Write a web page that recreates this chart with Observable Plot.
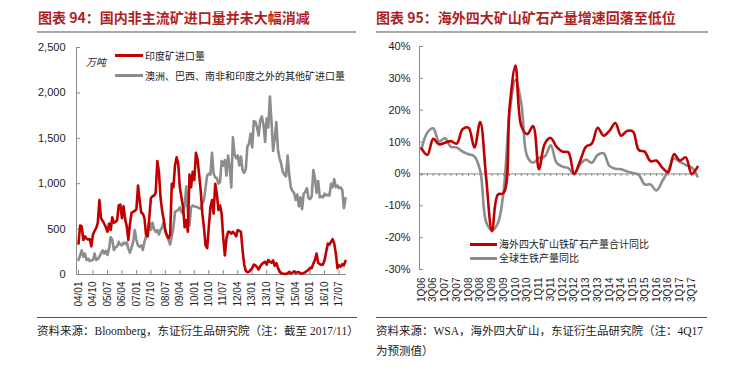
<!DOCTYPE html>
<html><head><meta charset="utf-8">
<script src="https://cdn.jsdelivr.net/npm/d3@7"></script>
<script src="https://cdn.jsdelivr.net/npm/@observablehq/plot@0.6"></script>
<style>
body{margin:0;background:#fff;}
#root{position:relative;width:738px;height:374px;overflow:hidden;}
.title{position:absolute;top:8px;font-family:"Noto Sans CJK SC",sans-serif;font-weight:bold;font-size:14px;line-height:18px;color:#b01f24;white-space:nowrap;}
.hr{position:absolute;height:2px;background:#a8a8a8;}
.hr2{position:absolute;height:1px;background:#555;}
.src{position:absolute;font-family:"Liberation Serif","Noto Sans CJK SC",serif;font-size:11.5px;line-height:20px;color:#222;white-space:nowrap;}
.chart{position:absolute;top:0;}
.leg{position:absolute;font-family:"Noto Sans CJK SC",sans-serif;font-size:10px;line-height:14px;color:#222;white-space:nowrap;}
.sw{position:absolute;height:3px;}
</style></head>
<body>
<div id="root">
  <div class="chart" id="left" style="left:0px"></div>
  <div class="chart" id="right" style="left:369px"></div>
  <div class="title" style="left:38px">图表 94：国内非主流矿进口量并未大幅消减</div>
  <div class="hr" style="left:37px;top:31px;width:319px"></div>
  <div class="title" style="left:376px">图表 95：海外四大矿山矿石产量增速回落至低位</div>
  <div class="hr" style="left:376px;top:31px;width:332px"></div>
  <div class="hr2" style="left:37px;top:317px;width:320px"></div>
  <div class="hr2" style="left:376px;top:317px;width:331px"></div>
  <div class="src" style="left:37px;top:321px">资料来源：Bloomberg，东证衍生品研究院（注：截至 2017/11）</div>
  <div class="src" style="left:376px;top:321px">资料来源：WSA，海外四大矿山，东证衍生品研究院（注：4Q17<br>为预测值）</div>

  <div class="leg" style="left:86px;top:55px;font-style:italic">万吨</div>
  <div class="sw" style="left:115px;top:54px;width:28px;background:#c00000"></div>
  <div class="leg" style="left:145px;top:49px">印度矿进口量</div>
  <div class="sw" style="left:115px;top:74px;width:28px;background:#8c8c8c"></div>
  <div class="leg" style="left:145px;top:69px">澳洲、巴西、南非和印度之外的其他矿进口量</div>

  <div class="sw" style="left:470px;top:243px;width:27px;background:#c00000"></div>
  <div class="leg" style="left:499px;top:237px">海外四大矿山铁矿石产量合计同比</div>
  <div class="sw" style="left:470px;top:257px;width:27px;background:#8c8c8c"></div>
  <div class="leg" style="left:499px;top:251px">全球生铁产量同比</div>
</div>
<script>
// ---- Left chart: monthly imports, 2004/01 – 2017/11 (万吨)
const indiaImports = [340,540,530,380,420,395,385,390,310,440,480,510,
570,820,620,590,560,520,470,560,490,630,570,580,
600,760,770,620,750,610,530,380,560,680,690,700,
720,980,820,680,670,620,440,420,620,840,860,870,
900,1250,1130,850,700,600,480,430,400,440,1000,960,
1200,1290,1220,960,850,740,520,600,470,1100,960,1130,
1040,1340,1270,1100,920,670,520,320,290,520,740,820,
670,1000,890,710,760,670,400,210,400,470,470,450,
470,450,420,490,480,470,270,110,40,25,30,50,
70,110,100,80,55,90,115,130,140,110,160,140,
130,155,95,125,75,30,15,10,8,5,15,30,
12,20,35,18,25,26,12,10,18,25,40,50,
75,70,120,160,230,130,115,105,110,160,250,340,
330,360,390,340,230,70,100,85,115,100,150];
const otherImports = [160,210,265,195,230,160,175,150,155,160,230,160,
170,195,235,265,230,260,215,285,410,380,270,300,
310,360,330,320,350,335,355,285,240,300,360,490,
380,320,305,320,270,360,420,440,580,490,570,500,
470,490,440,490,520,580,470,420,380,330,420,520,
690,700,710,740,690,670,760,970,670,540,740,760,
750,745,740,730,725,780,820,960,1090,1110,1100,1340,
1110,1070,1060,1000,1020,1250,1200,1260,1090,1310,1180,960,
1510,1330,1280,1310,1200,1300,1150,1120,1160,1410,1440,1550,
1400,1690,1680,1620,1530,1700,1740,1650,1460,1720,1620,1960,
1680,1360,1500,1680,1380,1280,1220,1130,1100,1080,1310,1100,
960,920,900,820,880,750,850,720,890,910,950,840,
830,860,1150,1060,900,1030,850,860,850,890,870,880,
870,1000,960,1050,960,980,950,960,930,730,840];
const leftTickLabels = ["04/01","04/10","05/07","06/04","07/01","07/10","08/07","09/04","10/01","10/10","11/07","12/04","13/01","13/10","14/07","15/04","16/01","16/10","17/07"];
const leftYTicks = [0,500,1000,1500,2000,2500];

// ---- Right chart: quarterly YoY, 1Q06 – 4Q17 (%)
const minesYoY = [8,6,11,9.3,9.8,10.3,9.5,14,14.5,8.3,16.3,-1,
-18,-6.5,-6,21,34,15,12.5,15,1.5,9.5,11.3,8.5,
7,6.8,0,4,8.5,9.5,14.5,12,13.5,16,12,13.5,
13.3,7.5,7,4,4.2,2,0.5,6.2,4.2,5.2,0,2.2];
const pigIronYoY = [7.8,13,14.3,10.2,11.2,8.5,8.3,7,6.2,5.5,1,-15,
-17.7,-15.5,-5,19,29.5,22,5.5,3.5,5,5.5,9,3.5,
2.3,1.8,0,3,4.5,3.5,6,6.5,2.5,1.6,1.5,0.8,
0.3,-0.3,-3.3,-3.3,-5.2,-2.3,1,4.8,3.8,2.8,2,-0.8];
const rightTickLabels = ["1Q06","3Q06","1Q07","3Q07","1Q08","3Q08","1Q09","3Q09","1Q10","3Q10","1Q11","3Q11","1Q12","3Q12","1Q13","3Q13","1Q14","3Q14","1Q15","3Q15","1Q16","3Q16","1Q17","3Q17"];
const rightYTicks = [-30,-20,-10,0,10,20,30,40];

const RED = "#c00000", GRAY = "#8c8c8c", AX = "#8a8a8a";

// helpers (category positions)
const monthIndex = s => { const [yy, mm] = s.split("/").map(Number); return (yy - 4) * 12 + (mm - 1); };
const quarterIndex = s => (+s.slice(2) - 6) * 4 + (+s[0] - 1);
const leftLabelByIndex = new Map(leftTickLabels.map(s => [monthIndex(s), s]));
const rightLabelByIndex = new Map(rightTickLabels.map(s => [quarterIndex(s), s]));

const indiaRows = indiaImports.map((v, i) => ({m: i, v}));
const otherRows = otherImports.map((v, i) => ({m: i, v}));
const minesRows = minesYoY.map((v, i) => ({q: i, v}));
const pigRows = pigIronYoY.map((v, i) => ({q: i, v}));

const leftPlot = Plot.plot({
  width: 369, height: 318,
  marginLeft: 76, marginRight: 24, marginTop: 47, marginBottom: 44,
  x: {domain: [0, indiaImports.length - 1], insetLeft: 2, label: null},
  y: {domain: [0, 2500], label: null},
  style: {fontFamily: "'Liberation Sans', Arial, sans-serif", fontSize: "11px", color: "#222", background: "transparent"},
  marks: [
    Plot.frame({anchor: "left", stroke: AX}),
    Plot.frame({anchor: "bottom", stroke: AX}),
    Plot.axisY({ticks: leftYTicks, tickSize: -4, tickPadding: 15, tickFormat: d3.format(","), stroke: AX, fill: "#222", fontSize: 11, label: null}),
    Plot.axisX({ticks: [...leftLabelByIndex.keys()], tickFormat: d => leftLabelByIndex.get(d), tickSize: -4, tickPadding: 11, tickRotate: -90, stroke: AX, fill: "#222", fontSize: 10, label: null}),
    Plot.line(otherRows, {x: "m", y: "v", stroke: GRAY, strokeWidth: 2.6}),
    Plot.line(indiaRows, {x: "m", y: "v", stroke: RED, strokeWidth: 2.6})
  ]
});
document.getElementById("left").append(leftPlot);

const rightPlot = Plot.plot({
  width: 369, height: 318,
  marginLeft: 50, marginRight: 41, marginTop: 46, marginBottom: 49,
  x: {domain: [0, minesYoY.length - 1], insetLeft: 2, label: null},
  y: {domain: [-30, 40], label: null},
  style: {fontFamily: "'Liberation Sans', Arial, sans-serif", fontSize: "11px", color: "#222", background: "transparent"},
  marks: [
    Plot.frame({anchor: "left", stroke: AX}),
    Plot.ruleY([0], {stroke: AX}),
    Plot.ruleX(minesRows, {x: "q", y1: 0, y2: -0.8, stroke: AX}),
    Plot.axisY({ticks: rightYTicks, tickSize: -4, tickPadding: 13, tickFormat: d => d + "%", stroke: AX, fill: "#222", fontSize: 11, label: null}),
    Plot.axisX({ticks: [...rightLabelByIndex.keys()], tickFormat: d => rightLabelByIndex.get(d), tickSize: 0, tickPadding: 8, tickRotate: -90, fill: "#222", fontSize: 10, label: null}),
    Plot.line(pigRows, {x: "q", y: "v", stroke: GRAY, strokeWidth: 2.6, curve: "catmull-rom"}),
    Plot.line(minesRows, {x: "q", y: "v", stroke: RED, strokeWidth: 2.6, curve: "catmull-rom"})
  ]
});
document.getElementById("right").append(rightPlot);
</script>
</body></html>
